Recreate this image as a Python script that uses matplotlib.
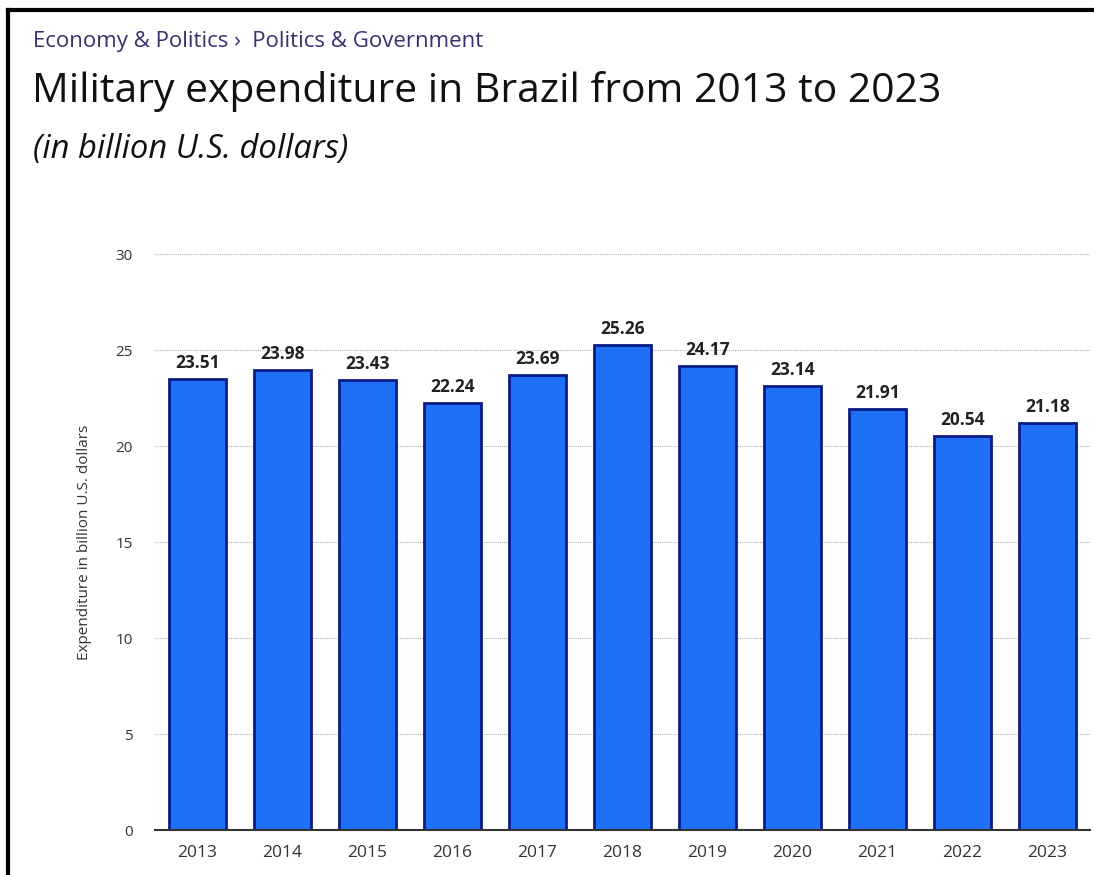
import matplotlib.pyplot as plt
from matplotlib.lines import Line2D

# Military expenditure in Brazil, billion U.S. dollars
years = ['2013', '2014', '2015', '2016', '2017', '2018', '2019', '2020', '2021', '2022', '2023']
spending = [23.51, 23.98, 23.43, 22.24, 23.69, 25.26, 24.17, 23.14, 21.91, 20.54, 21.18]
y_ticks = [0, 5, 10, 15, 20, 25, 30]

plt.rcParams['font.family'] = ['Open Sans', 'DejaVu Sans']

fig = plt.figure(figsize=(10.94, 8.75), dpi=100)
fig.patch.set_facecolor('white')

# black frame along top and left edges
fig.add_artist(Line2D([0.0075, 1.0], [0.9885, 0.9885], color='black', lw=3,
                      transform=fig.transFigure))
fig.add_artist(Line2D([0.0075, 0.0075], [0.0, 0.9885], color='black', lw=3,
                      transform=fig.transFigure))

# header texts
fig.text(0.030, 0.953, 'Economy & Politics \u203a  Politics & Government',
         fontsize=16, color='#3b2f6e', va='center', ha='left')
fig.text(0.029, 0.895, 'Military expenditure in Brazil from 2013 to 2023',
         fontsize=29.4, color='#111111', va='center', ha='left')
fig.text(0.030, 0.829, '(in billion U.S. dollars)', fontsize=23.6, style='italic',
         color='#111111', va='center', ha='left')

ax = fig.add_axes([0.1417, 0.0514, 0.8546, 0.6583])
x = range(len(years))
bars = ax.bar(x, spending, width=0.68, color='#1e70f7', edgecolor='#0b1c86',
              linewidth=2, zorder=3)

for b, v in zip(bars, spending):
    ax.annotate(f'{v:.2f}', (b.get_x() + b.get_width() / 2, v),
                xytext=(0, 5), textcoords='offset points', ha='center', va='bottom',
                fontsize=12.5, fontweight='bold', color='#222222')

ax.set_xlim(-0.5, len(years) - 0.5)
ax.set_ylim(0, 30)
ax.set_yticks(y_ticks)
ax.set_xticks(list(x))
ax.set_xticklabels(years)
ax.tick_params(axis='y', length=0, pad=16, labelsize=11, labelcolor='#333333')
ax.tick_params(axis='x', length=0, pad=11, labelsize=12.5, labelcolor='#333333')
ax.yaxis.grid(True, linestyle=(0, (1, 1)), color='#b0b0b0', linewidth=0.8, zorder=0)
ax.set_axisbelow(True)

for side in ['top', 'right', 'left']:
    ax.spines[side].set_visible(False)
ax.spines['bottom'].set_color('#333333')
ax.spines['bottom'].set_linewidth(1.5)
ax.spines['bottom'].set_zorder(4)

ax.set_ylabel('Expenditure in billion U.S. dollars', fontsize=11, color='#333333')
ax.yaxis.set_label_coords(-0.067, 0.5)

fig.savefig('out.png', dpi=100)
